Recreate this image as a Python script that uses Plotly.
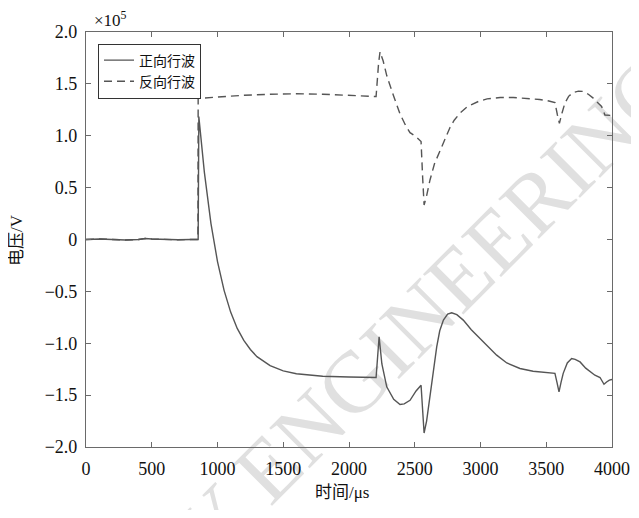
import plotly.graph_objects as go

# forward travelling wave (正向行波), values in 1e5 V
t_fwd = [0, 100, 200, 300, 400, 450, 500, 600, 700, 800, 853, 858, 870, 900, 950, 1000,
         1050, 1100, 1150, 1200, 1250, 1300, 1400, 1500, 1600, 1800, 2000, 2100, 2206, 2229,
         2250, 2287, 2340, 2388, 2420, 2464, 2510, 2548, 2560, 2571, 2590, 2616, 2640,
         2667, 2690, 2718, 2750, 2781, 2820, 2869, 2930, 2996, 3060, 3123, 3200, 3300,
         3400, 3503, 3566, 3582, 3597, 3612, 3629, 3660, 3693, 3720, 3757, 3800, 3833,
         3870, 3909, 3939, 3959, 3980, 4000]
v_fwd = [0.0, 0.005, 0.0, -0.005, 0.0, 0.01, 0.005, 0.0, -0.003, 0.0, 0.0, 1.185, 1.02,
         0.649, 0.156, -0.213, -0.49, -0.70, -0.857, -0.973, -1.06, -1.129, -1.216, -1.266,
         -1.294, -1.318, -1.325, -1.33, -1.33, -0.938, -1.20, -1.42, -1.54, -1.59, -1.585,
         -1.55, -1.46, -1.404, -1.60, -1.865, -1.75, -1.517, -1.26, -1.035, -0.88, -0.777,
         -0.72, -0.706, -0.725, -0.777, -0.87, -0.954, -1.04, -1.115, -1.19, -1.243,
         -1.27, -1.286, -1.29, -1.38, -1.469, -1.38, -1.29, -1.19, -1.147, -1.155, -1.18,
         -1.24, -1.276, -1.308, -1.33, -1.395, -1.373, -1.355, -1.35]

# backward travelling wave (反向行波), values in 1e5 V
t_bwd = [0, 100, 200, 300, 400, 450, 500, 600, 700, 800, 851, 853, 900, 1000, 1200, 1400,
         1600, 1800, 2000, 2100, 2206, 2225, 2236, 2260, 2287, 2340, 2388, 2430, 2464,
         2510, 2548, 2560, 2571, 2590, 2616, 2650, 2692, 2730, 2768, 2800, 2844, 2900,
         2983, 3050, 3150, 3250, 3350, 3450, 3520, 3566, 3585, 3600, 3620, 3642, 3670,
         3705, 3745, 3781, 3820, 3857, 3890, 3921, 3946, 3970, 4000]
v_bwd = [0.0, 0.005, 0.0, -0.005, 0.0, 0.01, 0.005, 0.0, -0.003, 0.0, 0.0, 1.36, 1.365,
         1.375, 1.39, 1.40, 1.405, 1.40, 1.39, 1.385, 1.378, 1.70, 1.81, 1.72, 1.58, 1.38,
         1.21, 1.10, 1.03, 0.99, 0.944, 0.60, 0.333, 0.42, 0.574, 0.73, 0.86, 0.98, 1.08,
         1.15, 1.218, 1.28, 1.33, 1.355, 1.368, 1.368, 1.36, 1.35, 1.335, 1.32, 1.20,
         1.12, 1.22, 1.315, 1.38, 1.417, 1.43, 1.427, 1.40, 1.363, 1.32, 1.282, 1.20,
         1.195, 1.195]

x_ticks = [0, 500, 1000, 1500, 2000, 2500, 3000, 3500, 4000]
y_ticks = [-2.0, -1.5, -1.0, -0.5, 0, 0.5, 1.0, 1.5, 2.0]
y_ticktext = ["\u22122.0", "\u22121.5", "\u22121.0", "\u22120.5", "0", "0.5", "1.0", "1.5", "2.0"]

FONT = "Liberation Serif, Noto Sans CJK SC"
LINE = "#555555"
AX = "#6a6a6a"

# page body has an 8px default margin; size figure so it fills the 639x518 window
OFF = 8
W, H = 639 - 2 * OFF, 518 - 2 * OFF
# plot area in window pixels: x 86..612, y 32..447
ml = 86 - OFF
mt = 32 - OFF
mr = W - (612 - OFF)
mb = H - (447 - OFF)
pw, ph = W - ml - mr, H - mt - mb


def px(x):
    return (x - OFF - ml) / pw


def py(y):
    return (H - mb - (y - OFF)) / ph


fig = go.Figure()
fig.add_trace(go.Scatter(x=t_fwd, y=v_fwd, mode="lines", name="正向行波",
                         line=dict(color=LINE, width=1.4, dash="solid")))
fig.add_trace(go.Scatter(x=t_bwd, y=v_bwd, mode="lines", name="反向行波",
                         line=dict(color=LINE, width=1.4, dash="8px,5px")))

axis_common = dict(showline=True, linecolor=AX, linewidth=1.2, mirror="ticks",
                   ticks="inside", ticklen=5, tickcolor=AX, showgrid=False,
                   zeroline=False, tickfont=dict(family=FONT, size=18, color="#111111"))

fig.update_xaxes(range=[0, 4000], tickvals=x_ticks, ticktext=[str(v) for v in x_ticks],
                 ticklabelstandoff=5, **axis_common)
fig.update_yaxes(range=[-2.0, 2.0], tickvals=y_ticks, ticktext=y_ticktext,
                 ticklabelstandoff=4, **axis_common)

fig.update_layout(
    width=W, height=H,
    margin=dict(l=ml, r=mr, t=mt, b=mb, pad=0, autoexpand=False),
    paper_bgcolor="white", plot_bgcolor="white",
    font=dict(family=FONT, size=16, color="#111111"),
    showlegend=True,
    legend=dict(x=px(98), y=py(43.5), xanchor="left", yanchor="top",
                bgcolor="white", bordercolor="#333333", borderwidth=1,
                font=dict(family=FONT, size=14, color="#111111"),
                tracegroupgap=0, itemwidth=30),
    shapes=[
        dict(type="line", xref="paper", yref="paper", layer="below",
             x0=px(247), y0=py(548), x1=px(667), y1=py(128),
             line=dict(color="rgba(0,0,0,0)", width=1),
             label=dict(text="Y ENGINEERING", textposition="middle", textangle=-45,
                        font=dict(family=FONT, size=87, color="#e0e0e0"))),
    ],
    annotations=[
        dict(text="×10<sup>5</sup>", x=px(92), y=py(19), xref="paper", yref="paper",
             xanchor="left", yanchor="middle", showarrow=False,
             font=dict(family=FONT, size=17, color="#111111")),
        dict(text="电压/V", x=px(17), y=py(240), xref="paper", yref="paper",
             xanchor="center", yanchor="middle", showarrow=False, textangle=-90,
             font=dict(family=FONT, size=17, color="#111111")),
        dict(text="时间/μs", x=px(342), y=py(492), xref="paper", yref="paper",
             xanchor="center", yanchor="middle", showarrow=False,
             font=dict(family=FONT, size=17, color="#111111")),
    ],
)

fig.write_html("out.html")
